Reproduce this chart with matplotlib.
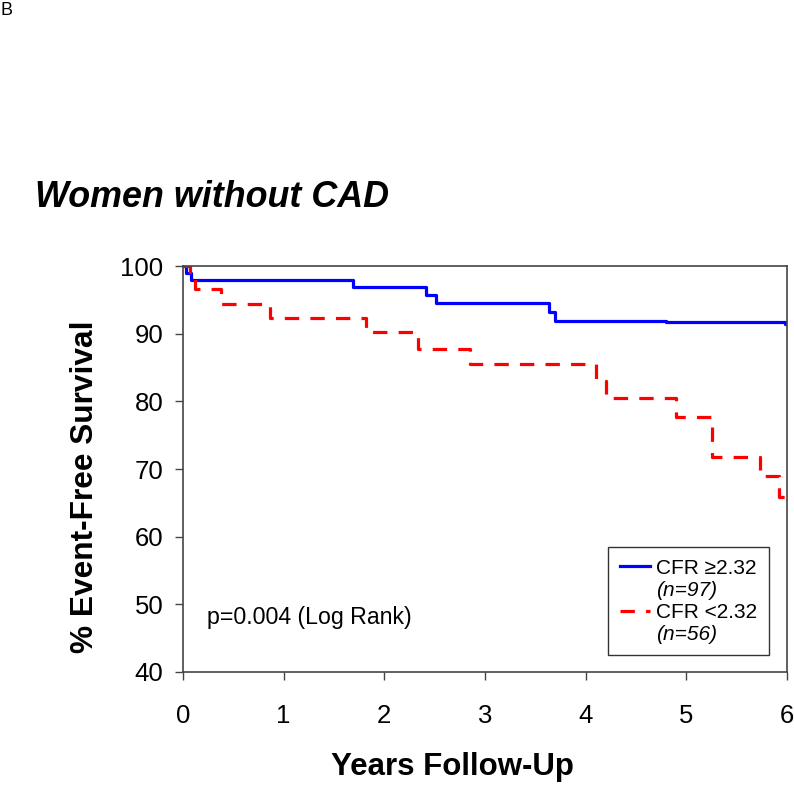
"""
Kaplan-Meier: Women without CAD, CFR >=2.32 vs <2.32
"""
import matplotlib
matplotlib.use('Agg')
import matplotlib.pyplot as plt
from matplotlib.lines import Line2D

plt.rcParams['font.family'] = ['Liberation Sans', 'DejaVu Sans']

# 数据
blue_years = [0, 0.03, 0.08, 1.69, 2.41, 2.51, 3.64, 3.70, 4.80, 5.98, 6.0]
blue_surv = [100, 99.0, 97.9, 96.9, 95.7, 94.6, 93.2, 91.9, 91.8, 91.5, 91.5]

red_years = [0, 0.07, 0.12, 0.38, 0.86, 1.82, 2.33, 2.85, 4.10, 4.20, 4.90, 5.25, 5.73, 5.92, 6.0]
red_surv = [100, 98.2, 96.6, 94.4, 92.3, 90.3, 87.8, 85.6, 83.0, 80.5, 77.7, 71.8, 69.0, 65.9, 65.9]

x_ticks = [0, 1, 2, 3, 4, 5, 6]
y_ticks = [40, 50, 60, 70, 80, 90, 100]

legend_names = ['CFR \u22652.32', '(n=97)', 'CFR <2.32', '(n=56)']

fig = plt.figure(figsize=(7.94, 7.85), dpi=100)
ax = fig.add_axes([0.2305, 0.144, 0.7607, 0.517])

blue_line, = ax.step(blue_years, blue_surv, where='post', color='#0000FF', linewidth=2.3)
red_line, = ax.step(red_years, red_surv, where='post', color='#FF0000', linewidth=2.3,
                    dashes=(4.5, 3.5))

ax.set_xlim(0, 6)
ax.set_ylim(40, 100)
ax.set_xticks(x_ticks)
ax.set_yticks(y_ticks)
ax.tick_params(labelsize=18.5, length=6, width=1, color='#444444', pad=8)
ax.tick_params(axis='x', pad=17)

for s in ax.spines.values():
    s.set_color('#444444')
    s.set_linewidth(1.2)

ax.set_xlabel('Years Follow-Up', fontsize=22.5, fontweight='bold')
ax.xaxis.set_label_coords(0.446, -0.255)
ax.xaxis.label.set_va('baseline')
ax.set_ylabel('% Event-Free Survival', fontsize=22.8, fontweight='bold')
ax.yaxis.set_label_coords(-0.137, 0.456)

ax.text(0.04, 0.135, 'p=0.004 (Log Rank)', transform=ax.transAxes, fontsize=16.7,
        va='center', ha='left')

# 图例: 第二行斜体
blank = Line2D([], [], linestyle='none')
leg = ax.legend([blue_line, blank, red_line, blank], legend_names,
                loc='lower right', fontsize=15, frameon=True, fancybox=False,
                handlelength=1.45, handletextpad=0.3, borderpad=0.55,
                labelspacing=0.15, bbox_to_anchor=(0.987, 0.015))
leg.get_frame().set_edgecolor('black')
leg.get_frame().set_linewidth(1.0)
for i in (1, 3):
    leg.get_texts()[i].set_fontstyle('italic')

fig.text(0.044, 0.749, 'Women without CAD', fontsize=25.8, fontweight='bold',
         fontstyle='italic', va='center', ha='left')
fig.text(0.0, 0.997, 'B', fontsize=13, va='top', ha='left')

plt.savefig('out.png', dpi=100)
plt.close()
